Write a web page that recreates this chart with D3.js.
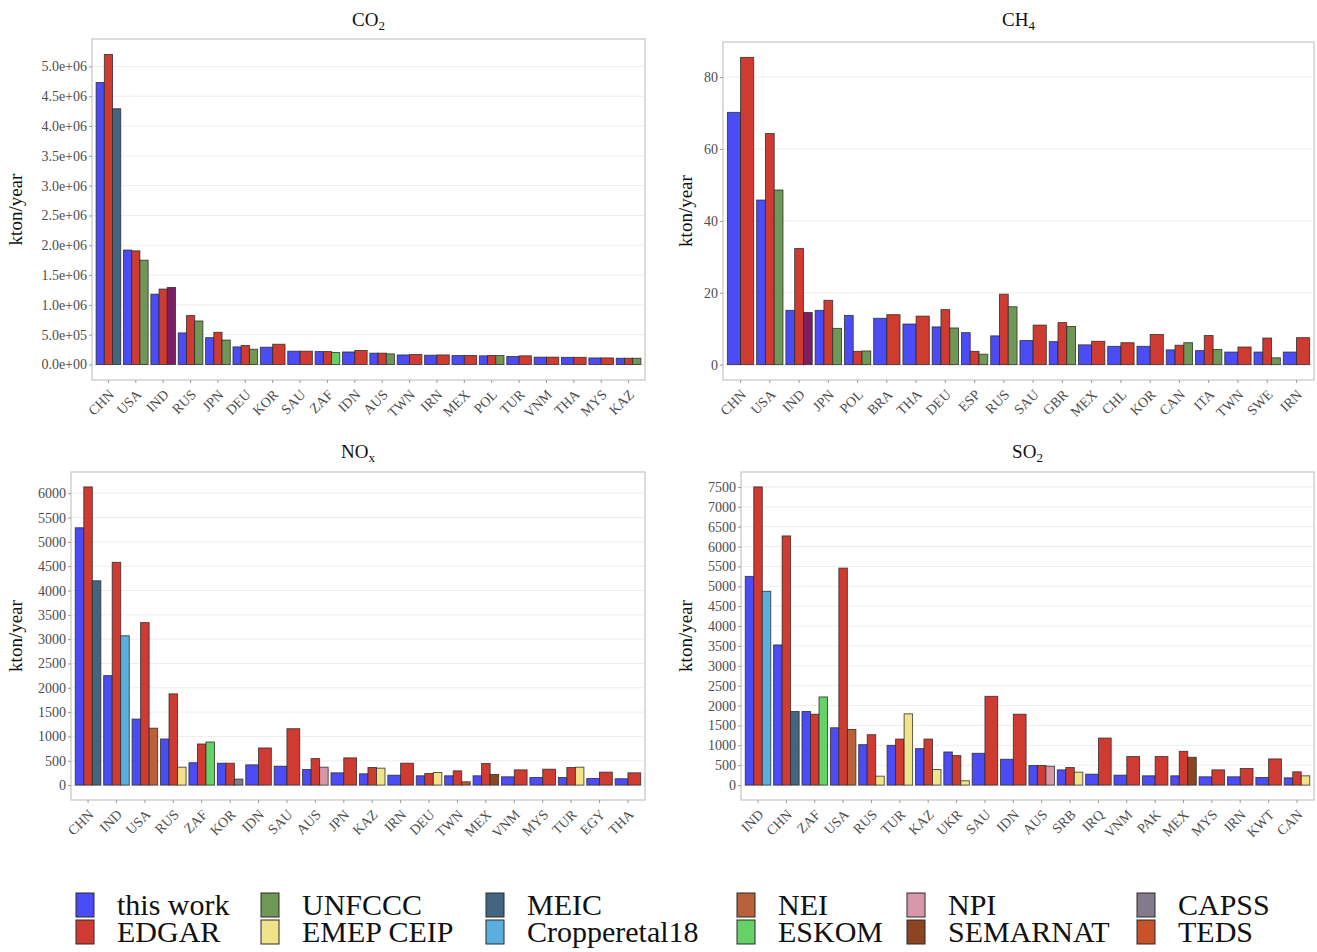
<!DOCTYPE html>
<html>
<head>
<meta charset="utf-8">
<script src="https://cdn.jsdelivr.net/npm/d3@7"></script>
<style>
  body { margin: 0; background: #fff; }
  svg { font-family: "Liberation Serif", "DejaVu Serif", serif; }
</style>
</head>
<body>
<svg id="chart" width="1317" height="952"></svg>
<script>
// ---- data (kton/year) ----
const co2Countries = ['CHN','USA','IND','RUS','JPN','DEU','KOR','SAU','ZAF','IDN','AUS','TWN','IRN','MEX','POL','TUR','VNM','THA','MYS','KAZ'];
const co2ThisWork = [4730000,1920000,1180000,530000,450000,295000,290000,223000,217000,210000,190000,160000,156000,150000,145000,134000,123000,120000,110000,105000];
const co2Edgar    = [5200000,1906000,1265000,820000,540000,320000,340000,223000,217000,234000,190000,167000,160000,150000,150000,145000,123000,120000,110000,105000];
const co2Third    = [4290000,1750000,1293000,730000,410000,256000,null,null,200000,null,178000,null,null,null,150000,null,null,null,null,105000];
const co2ThirdSrc = ['MEIC','UNFCCC','other','UNFCCC','UNFCCC','UNFCCC',null,null,'ESKOM',null,'UNFCCC',null,null,null,'UNFCCC',null,null,null,null,'UNFCCC'];
const co2Ticks = [0,500000,1000000,1500000,2000000,2500000,3000000,3500000,4000000,4500000,5000000];

const ch4Countries = ['CHN','USA','IND','JPN','POL','BRA','THA','DEU','ESP','RUS','SAU','GBR','MEX','CHL','KOR','CAN','ITA','TWN','SWE','IRN'];
const ch4ThisWork = [70.2,45.8,15.1,15.1,13.7,12.9,11.3,10.5,8.9,8.0,6.7,6.4,5.5,5.1,5.1,4.1,3.9,3.5,3.5,3.5];
const ch4Edgar    = [85.5,64.3,32.3,17.9,3.7,13.9,13.5,15.3,3.7,19.6,11.0,11.7,6.5,6.1,8.4,5.4,8.1,4.9,7.4,7.5];
const ch4Third    = [null,48.6,14.5,10.1,3.8,null,null,10.2,2.9,16.1,null,10.6,null,null,null,6.1,4.2,null,1.9,null];
const ch4ThirdSrc = [null,'UNFCCC','other','UNFCCC','UNFCCC',null,null,'UNFCCC','UNFCCC','UNFCCC',null,'UNFCCC',null,null,null,'UNFCCC','UNFCCC',null,'UNFCCC',null];
const ch4Ticks = [0,20,40,60,80];

const noxCountries = ['CHN','IND','USA','RUS','ZAF','KOR','IDN','SAU','AUS','JPN','KAZ','IRN','DEU','TWN','MEX','VNM','MYS','TUR','EGY','THA'];
const noxThisWork = [5290,2250,1357,948,460,450,416,389,320,252,232,204,191,191,191,170,157,157,136,130];
const noxEdgar    = [6130,4580,3340,1875,845,450,763,1159,545,559,361,450,239,293,443,313,327,361,266,252];
const noxThird    = [4200,3070,1170,368,886,123,null,null,368,null,348,null,259,68,218,null,null,368,null,null];
const noxThirdSrc = ['MEIC','Cropperetal18','NEI','EMEP CEIP','ESKOM','CAPSS',null,null,'NPI',null,'EMEP CEIP',null,'EMEP CEIP','TEDS','SEMARNAT',null,null,'EMEP CEIP',null,null];
const noxTicks = [0,500,1000,1500,2000,2500,3000,3500,4000,4500,5000,5500,6000];

const so2Countries = ['IND','CHN','ZAF','USA','RUS','TUR','KAZ','UKR','SAU','IDN','AUS','SRB','IRQ','VNM','PAK','MEX','MYS','IRN','KWT','CAN'];
const so2ThisWork = [5250,3525,1850,1442,1017,1000,917,833,800,650,492,383,275,250,233,233,208,208,192,183];
const so2Edgar    = [7500,6267,1783,5458,1267,1158,1158,742,2233,1783,492,442,1183,717,717,850,383,417,658,333];
const so2Third    = [4875,1850,2217,1400,225,1792,392,108,null,null,475,325,null,null,null,700,null,null,null,233];
const so2ThirdSrc = ['Cropperetal18','MEIC','ESKOM','NEI','EMEP CEIP','EMEP CEIP','EMEP CEIP','EMEP CEIP',null,null,'NPI','EMEP CEIP',null,null,null,'SEMARNAT',null,null,null,'EMEP CEIP'];
const so2Ticks = [0,500,1000,1500,2000,2500,3000,3500,4000,4500,5000,5500,6000,6500,7000,7500];

const legendRow1 = ['this work','UNFCCC','MEIC','NEI','NPI','CAPSS'];
const legendRow2 = ['EDGAR','EMEP CEIP','Cropperetal18','ESKOM','SEMARNAT','TEDS'];

const sourceColors = {
  'this work': '#4b4cf6',
  'EDGAR': '#cf3b30',
  'UNFCCC': '#6f9856',
  'EMEP CEIP': '#f0e38a',
  'MEIC': '#44657f',
  'Cropperetal18': '#5aafde',
  'NEI': '#b9613a',
  'ESKOM': '#64d264',
  'NPI': '#d898a9',
  'SEMARNAT': '#8b4523',
  'CAPSS': '#857a8c',
  'TEDS': '#c8532b',
  'other': '#7b1f62'
};

const svg = d3.select('#chart');

function expFmt(v) {
  let s = d3.format('.1e')(v);
  return s.replace(/e([+-])(\d)$/, 'e$10$2');
}

const panels = [
  {title: 'CO', sub: '2', x0: 92, x1: 645, y0: 39, y1: 380, titleY: 26, ylabX: 22,
   countries: co2Countries, a: co2ThisWork, b: co2Edgar, c: co2Third, cs: co2ThirdSrc, ticks: co2Ticks, fmt: expFmt},
  {title: 'CH', sub: '4', x0: 723, x1: 1314, y0: 42, y1: 380, titleY: 26, ylabX: 692,
   countries: ch4Countries, a: ch4ThisWork, b: ch4Edgar, c: ch4Third, cs: ch4ThirdSrc, ticks: ch4Ticks, fmt: d3.format('d')},
  {title: 'NO', sub: 'x', x0: 71, x1: 645, y0: 472, y1: 800, titleY: 458, ylabX: 22,
   countries: noxCountries, a: noxThisWork, b: noxEdgar, c: noxThird, cs: noxThirdSrc, ticks: noxTicks, fmt: d3.format('d')},
  {title: 'SO', sub: '2', x0: 741, x1: 1314, y0: 472, y1: 800, titleY: 458, ylabX: 692,
   countries: so2Countries, a: so2ThisWork, b: so2Edgar, c: so2Third, cs: so2ThirdSrc, ticks: so2Ticks, fmt: d3.format('d')}
];

function drawPanel(p) {
  const g = svg.append('g');

  const x = d3.scaleBand()
    .domain(p.countries)
    .range([p.x0, p.x1])
    .paddingInner(0.1)
    .paddingOuter(0.15);

  const maxV = d3.max([].concat(p.a, p.b, p.c.filter(v => v != null)));
  const y = d3.scaleLinear()
    .domain([-0.05 * maxV, 1.05 * maxV])
    .range([p.y1, p.y0]);

  // grid
  g.append('g').selectAll('line')
    .data(p.ticks)
    .enter().append('line')
    .attr('x1', p.x0).attr('x2', p.x1)
    .attr('y1', d => y(d)).attr('y2', d => y(d))
    .style('stroke', '#ededed').style('stroke-width', 1);

  // bars
  const groups = p.countries.map(function (c, i) {
    let bars = [{src: 'this work', v: p.a[i]}, {src: 'EDGAR', v: p.b[i]}];
    if (p.c[i] != null) bars.push({src: p.cs[i], v: p.c[i]});
    return {country: c, bars: bars};
  });

  const grp = g.append('g').selectAll('g')
    .data(groups)
    .enter().append('g');

  grp.each(function (d) {
    const inner = d3.scaleBand()
      .domain(d3.range(d.bars.length))
      .range([x(d.country), x(d.country) + x.bandwidth()]);
    d3.select(this).selectAll('rect')
      .data(d.bars)
      .enter().append('rect')
      .attr('x', (b, j) => inner(j))
      .attr('width', inner.bandwidth())
      .attr('y', b => y(b.v))
      .attr('height', b => y(0) - y(b.v))
      .attr('fill', b => sourceColors[b.src])
      .style('stroke', '#2a2a2a')
      .style('stroke-opacity', 0.85)
      .style('stroke-width', 0.9);
  });

  // frame
  g.append('rect')
    .attr('x', p.x0).attr('y', p.y0)
    .attr('width', p.x1 - p.x0).attr('height', p.y1 - p.y0)
    .attr('fill', 'none')
    .style('stroke', '#c9c9c9').style('stroke-width', 1.3);

  // y axis
  const ya = g.append('g')
    .attr('transform', 'translate(' + p.x0 + ',0)')
    .call(d3.axisLeft(y).tickValues(p.ticks).tickFormat(p.fmt).tickSize(3).tickPadding(2));
  ya.select('.domain').remove();
  ya.selectAll('line').style('stroke', '#9a9a9a');
  ya.selectAll('text')
    .style('font-family', '"Liberation Serif", serif')
    .style('font-size', '14px')
    .attr('fill', '#4d4d4d');

  // x axis
  const xa = g.append('g')
    .attr('transform', 'translate(0,' + p.y1 + ')')
    .call(d3.axisBottom(x).tickSize(3));
  xa.select('.domain').remove();
  xa.selectAll('line').style('stroke', '#9a9a9a');
  xa.selectAll('text')
    .style('font-family', '"Liberation Serif", serif')
    .style('font-size', '14px')
    .attr('fill', '#4d4d4d')
    .attr('text-anchor', 'end')
    .attr('x', 0).attr('y', 0).attr('dy', '0.35em')
    .attr('transform', 'translate(3,12) rotate(-45)');

  // title
  const t = g.append('text')
    .attr('x', (p.x0 + p.x1) / 2)
    .attr('y', p.titleY)
    .attr('text-anchor', 'middle')
    .style('font-size', '19px')
    .attr('fill', '#111');
  t.append('tspan').text(p.title);
  t.append('tspan').attr('dy', 4).style('font-size', '13px').text(p.sub);

  // y label
  g.append('text')
    .attr('transform', 'translate(' + p.ylabX + ',' + ((p.y0 + p.y1) / 2) + ') rotate(-90)')
    .attr('text-anchor', 'middle')
    .style('font-size', '19px')
    .attr('fill', '#111')
    .text('kton/year');
}

panels.forEach(drawPanel);

// legend
const legendX = [76, 261, 486, 737, 907, 1137];
const legend = svg.append('g');
[legendRow1, legendRow2].forEach(function (row, r) {
  const top = 893 + r * 27;
  row.forEach(function (name, i) {
    legend.append('rect')
      .attr('x', legendX[i]).attr('y', top)
      .attr('width', 18).attr('height', 24)
      .attr('fill', sourceColors[name])
      .style('stroke', '#2a2a2a').style('stroke-width', 1);
    legend.append('text')
      .attr('x', legendX[i] + 41)
      .attr('y', top + 22)
      .style('font-size', '30px')
      .attr('fill', '#111')
      .text(name);
  });
});
</script>
</body>
</html>
